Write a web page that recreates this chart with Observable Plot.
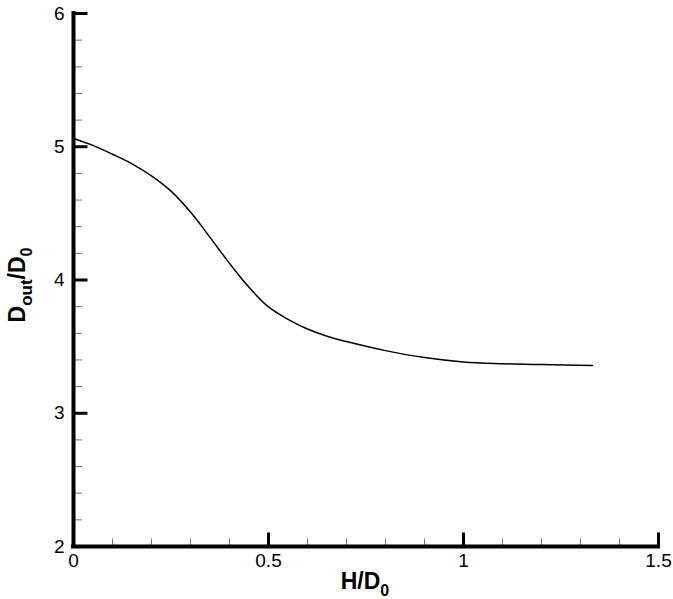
<!DOCTYPE html>
<html>
<head>
<meta charset="utf-8">
<script src="https://cdn.jsdelivr.net/npm/d3@7"></script>
<script src="https://cdn.jsdelivr.net/npm/@observablehq/plot@0.6"></script>
<style>
  html, body { margin: 0; padding: 0; background: #fff; }
</style>
</head>
<body>
<div id="chart"></div>
<script>
// H/D0 values along the curve
const hD0 = [0, 0.05, 0.1, 0.15, 0.2, 0.25, 0.3, 0.35, 0.4, 0.45, 0.5, 0.55, 0.6, 0.65, 0.7, 0.8, 0.9, 1.0, 1.1, 1.2, 1.331];
// Dout/D0 values
const doutD0 = [5.062, 5.01, 4.944, 4.872, 4.782, 4.667, 4.51, 4.32, 4.125, 3.945, 3.798, 3.705, 3.632, 3.578, 3.538, 3.47, 3.418, 3.385, 3.372, 3.365, 3.358];

const xMajor = [0, 0.5, 1, 1.5];
const xMinor = [0.1, 0.2, 0.3, 0.4, 0.6, 0.7, 0.8, 0.9, 1.1, 1.2, 1.3, 1.4];
const yMajor = [2, 3, 4, 5, 6];
const yMinor = [2.2, 2.4, 2.6, 2.8, 3.2, 3.4, 3.6, 3.8, 4.2, 4.4, 4.6, 4.8, 5.2, 5.4, 5.6, 5.8];

const data = hD0.map((h, i) => ({h, d: doutD0[i]}));

const tickRight = (len) => ({draw(ctx) { ctx.moveTo(0, 0); ctx.lineTo(len, 0); }});
const tickUp = (len) => ({draw(ctx) { ctx.moveTo(0, 0); ctx.lineTo(0, -len); }});

const svg = Plot.plot({
  width: 673,
  height: 599,
  marginLeft: 73,
  marginRight: 15,
  marginTop: 13,
  marginBottom: 53,
  style: {fontFamily: "'Liberation Sans', Arial, sans-serif", fontSize: "19px", color: "#000", background: "#fff"},
  x: {domain: [0, 1.5]},
  y: {domain: [2, 6]},
  marks: [
    Plot.line(data, {x: "h", y: "d", curve: "catmull-rom", stroke: "#000", strokeWidth: 1.5}),
    // minor ticks
    Plot.dot(yMinor, {x: () => 0, y: d => d, symbol: tickRight(8.5), stroke: "#777", strokeWidth: 1, fill: "none"}),
    Plot.dot(xMinor, {x: d => d, y: () => 2, symbol: tickUp(8), stroke: "#777", strokeWidth: 1, fill: "none"}),
    // major ticks
    Plot.dot(yMajor, {x: () => 0, y: d => d, symbol: tickRight(14), stroke: "#000", strokeWidth: 3, fill: "none"}),
    Plot.dot(xMajor, {x: d => d, y: () => 2, symbol: tickUp(14), stroke: "#000", strokeWidth: 3, fill: "none"}),
    // axis lines
    Plot.ruleX([0], {y1: 2, y2: 6, stroke: "#000", strokeWidth: 4, strokeLinecap: "square"}),
    Plot.ruleY([2], {x1: 0, x2: 1.5, stroke: "#000", strokeWidth: 4, strokeLinecap: "square"}),
    // labels
    Plot.axisX({ticks: xMajor, tickSize: 0, tickPadding: 7, label: null, tickFormat: d => String(d)}),
    Plot.axisY({ticks: yMajor, tickSize: 0, tickPadding: 9, label: null, tickFormat: d => String(d)})
  ]
});

const s = d3.select(svg);
// X axis title
const xt = s.append("text")
  .attr("x", 365)
  .attr("y", 589)
  .attr("text-anchor", "middle")
  .style("font-family", "'Liberation Sans', Arial, sans-serif")
  .style("font-weight", "bold")
  .style("font-size", "23px")
  .attr("fill", "#000");
xt.append("tspan").text("H/D");
xt.append("tspan").attr("dy", 7).style("font-size", "16px").text("0");

// Y axis title
const yt = s.append("text")
  .attr("transform", "translate(25,285) rotate(-90)")
  .attr("text-anchor", "middle")
  .style("font-family", "'Liberation Sans', Arial, sans-serif")
  .style("font-weight", "bold")
  .style("font-size", "23px")
  .attr("fill", "#000");
yt.append("tspan").text("D");
yt.append("tspan").attr("dy", 7).style("font-size", "17px").text("out");
yt.append("tspan").attr("dy", -7).text("/D");
yt.append("tspan").attr("dy", 7).style("font-size", "16px").text("0");

document.getElementById("chart").appendChild(svg);
</script>
</body>
</html>
